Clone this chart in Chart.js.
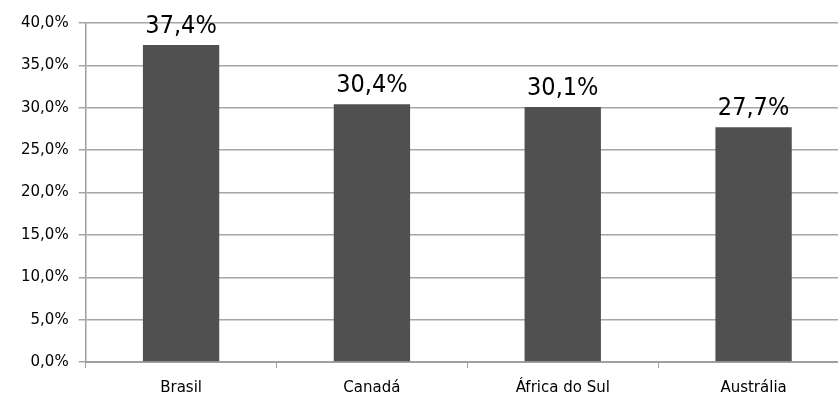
<!DOCTYPE html>
<html>
<head>
<meta charset="utf-8">
<script src="https://cdn.jsdelivr.net/npm/chart.js@4.4.1/dist/chart.umd.min.js"></script>
<style>
  html, body { margin: 0; padding: 0; background: #ffffff; overflow: hidden; }
  #wrap { position: relative; width: 860px; height: 395px; }
</style>
</head>
<body>
<div id="wrap"><canvas id="chart"></canvas></div>
<script>
// Share of the total, by country (%)
const categories = ['Brasil', 'Canadá', 'África do Sul', 'Austrália'];
const values = [37.4, 30.4, 30.1, 27.7];
const yTicks = [0, 5, 10, 15, 20, 25, 30, 35, 40];

const fmt = v => v.toFixed(1).replace('.', ',') + '%';

// Value labels drawn above each bar
const valueLabels = {
  id: 'valueLabels',
  afterDatasetsDraw(chart) {
    const ctx = chart.ctx;
    const meta = chart.getDatasetMeta(0);
    ctx.save();
    ctx.fillStyle = '#000000';
    ctx.font = '25px "DejaVu Sans Condensed", "DejaVu Sans", sans-serif';
    ctx.textAlign = 'center';
    ctx.textBaseline = 'alphabetic';
    meta.data.forEach((bar, i) => {
      ctx.fillText(fmt(values[i]), bar.x, bar.y - 12);
    });
    ctx.restore();
  }
};

new Chart(document.getElementById('chart'), {
  type: 'bar',
  data: {
    labels: categories,
    datasets: [{
      data: values,
      backgroundColor: '#505050',
      borderWidth: 0,
      categoryPercentage: 1.0,
      barPercentage: 0.40
    }]
  },
  options: {
    responsive: true,
    maintainAspectRatio: false,
    animation: false,
    layout: { padding: { top: 23, right: 11, bottom: 0, left: 11 } },
    plugins: {
      legend: { display: false },
      tooltip: { enabled: false }
    },
    scales: {
      x: {
        offset: true,
        afterFit(scale) { scale.height = 33; },
        grid: {
          offset: true,
          drawOnChartArea: false,
          drawTicks: true,
          tickLength: 6,
          color: '#a0a0a0',
          lineWidth: 1
        },
        border: { display: true, color: '#a0a0a0', width: 2 },
        ticks: {
          color: '#000000',
          padding: 11,
          font: { family: '"DejaVu Sans", Verdana, sans-serif', size: 15 }
        }
      },
      y: {
        min: 0,
        max: 40,
        afterBuildTicks(axis) {
          axis.ticks = yTicks.map(v => ({ value: v }));
        },
        grid: {
          color: '#a6a6a6',
          lineWidth: 1.5,
          drawTicks: true,
          tickLength: 7
        },
        border: { display: true, color: '#a0a0a0', width: 1.5 },
        ticks: {
          color: '#000000',
          padding: 10,
          font: { family: '"DejaVu Sans", Verdana, sans-serif', size: 15 },
          callback: v => fmt(v)
        }
      }
    }
  },
  plugins: [valueLabels]
});
</script>
</body>
</html>
